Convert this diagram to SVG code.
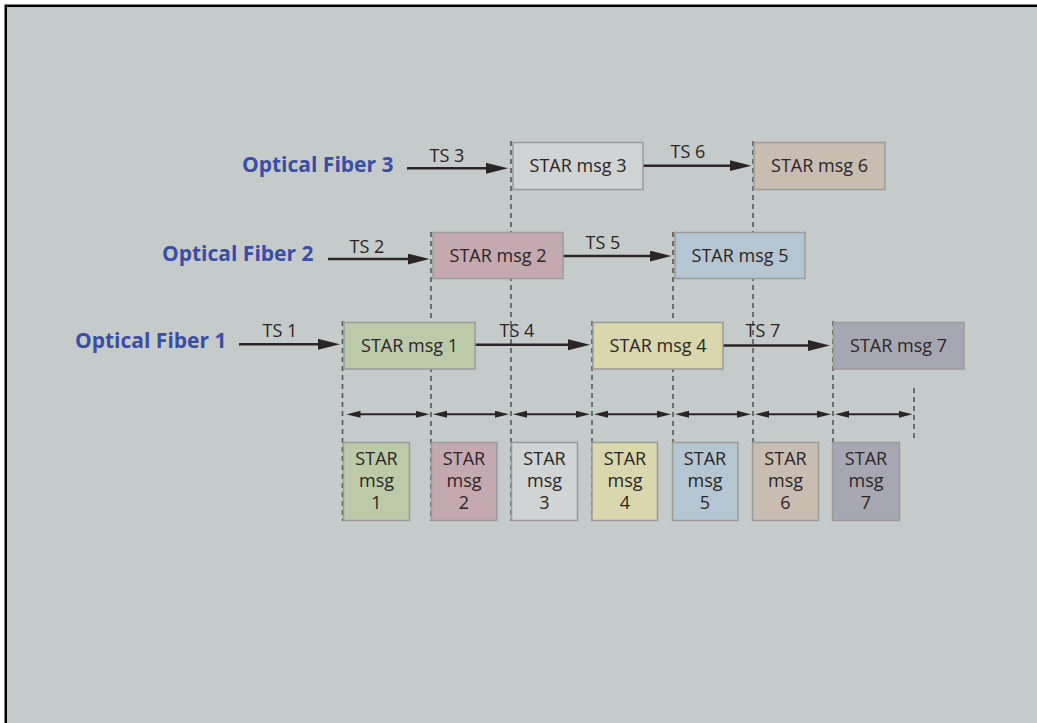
<svg xmlns="http://www.w3.org/2000/svg" width="1037" height="723" viewBox="0 0 1037 723">
<style>
.fiber{font-family:"Open Sans","Liberation Sans",sans-serif;font-weight:bold;font-size:21px;fill:#3b4ea6}
.t{font-family:"Open Sans","Liberation Sans",sans-serif;font-size:18px;fill:#2b2526;text-anchor:middle}
.box{stroke:#9a9a9a;stroke-width:1.5}
.arr{stroke:#2b2526;stroke-width:2.6;fill:none;marker-end:url(#ah)}
.dbl{stroke:#2b2526;stroke-width:2;fill:none;marker-end:url(#dh);marker-start:url(#dh)}
.dash{stroke:#555;stroke-width:1.6;stroke-dasharray:5 4;fill:none}
</style>
<defs>
<marker id="ah" markerUnits="userSpaceOnUse" markerWidth="22" markerHeight="12" refX="12" refY="5.5" orient="auto"><path d="M0,0 L22,5.5 L0,11 z" fill="#2b2526"/></marker>
<marker id="dh" markerUnits="userSpaceOnUse" markerWidth="14" markerHeight="8" refX="8" refY="3.5" orient="auto-start-reverse"><path d="M0,0 L14,3.5 L0,7 z" fill="#2b2526"/></marker>
</defs>
<rect x="0" y="0" width="1037" height="723" fill="#fff"/>
<rect x="5.75" y="5.75" width="1040" height="730" fill="#c5cbca" stroke="#000" stroke-width="2.5"/>

<g id="connectors">
<path class="dash" d="M342.5,321 V521"/>
<path class="dash" d="M431,232 V521"/>
<path class="dash" d="M511,141 V521"/>
<path class="dash" d="M592,321 V521"/>
<path class="dash" d="M673,232 V521"/>
<path class="dash" d="M753,141 V521"/>
<path class="dash" d="M833,321 V521"/>
<path class="dash" d="M914,388 V441"/>

<path class="arr" d="M407,168.3 H498"/>
<path class="arr" d="M643,165.7 H741.5"/>
<path class="arr" d="M328,259 H419.5"/>
<path class="arr" d="M563,256 H661.5"/>
<path class="arr" d="M239,344.3 H330"/>
<path class="arr" d="M475,344.8 H580"/>
<path class="arr" d="M723,345.5 H820"/>

<path class="dbl" d="M352.5,414.3 H423.5"/>
<path class="dbl" d="M439,414.3 H503"/>
<path class="dbl" d="M519,414.3 H584"/>
<path class="dbl" d="M600,414.3 H665"/>
<path class="dbl" d="M681,414.3 H745"/>
<path class="dbl" d="M761,414.3 H825"/>
<path class="dbl" d="M841,414.3 H906.5"/>

<text class="t" x="447" y="162">TS 3</text>
<text class="t" x="688" y="158">TS 6</text>
<text class="t" x="367" y="253">TS 2</text>
<text class="t" x="603" y="249">TS 5</text>
<text class="t" x="280" y="337">TS 1</text>
<text class="t" x="517" y="337">TS 4</text>
<text class="t" x="763" y="337">TS 7</text>
</g>

<g id="fiber3"><text class="fiber" x="242" y="172">Optical Fiber 3</text></g>
<g id="fiber2"><text class="fiber" x="162" y="261">Optical Fiber 2</text></g>
<g id="fiber1"><text class="fiber" x="75" y="348">Optical Fiber 1</text></g>

<g id="msg3"><rect class="box" x="513" y="142.5" width="130" height="47" fill="#d0d4d4"/><text class="t" x="578" y="172">STAR msg 3</text></g>
<g id="msg6"><rect class="box" x="754" y="142.5" width="131" height="47" fill="#c9bdb1"/><text class="t" x="819.5" y="172">STAR msg 6</text></g>
<g id="msg2"><rect class="box" x="433" y="232.5" width="130" height="46" fill="#c4a9b0"/><text class="t" x="498" y="262">STAR msg 2</text></g>
<g id="msg5"><rect class="box" x="675" y="232.5" width="130" height="46" fill="#b4c6d1"/><text class="t" x="740" y="262">STAR msg 5</text></g>
<g id="msg1"><rect class="box" x="344" y="322.5" width="131" height="46.5" fill="#bccaa9"/><text class="t" x="409.5" y="352">STAR msg 1</text></g>
<g id="msg4"><rect class="box" x="593" y="322.5" width="130" height="46.5" fill="#dad6ae"/><text class="t" x="658" y="352">STAR msg 4</text></g>
<g id="msg7"><rect class="box" x="833.5" y="322.5" width="130.5" height="46.5" fill="#a7a7b3"/><text class="t" x="898.5" y="352">STAR msg 7</text></g>

<g id="slot1"><rect class="box" x="343.5" y="442.5" width="66" height="78" fill="#bccaa9"/><text class="t" x="376.5" y="465">STAR</text><text class="t" x="376.5" y="487">msg</text><text class="t" x="376.5" y="509">1</text></g>
<g id="slot2"><rect class="box" x="431.5" y="442.5" width="65.5" height="78" fill="#c4a9b0"/><text class="t" x="464" y="465">STAR</text><text class="t" x="464" y="487">msg</text><text class="t" x="464" y="509">2</text></g>
<g id="slot3"><rect class="box" x="511.5" y="442.5" width="66" height="78" fill="#d0d4d4"/><text class="t" x="544.5" y="465">STAR</text><text class="t" x="544.5" y="487">msg</text><text class="t" x="544.5" y="509">3</text></g>
<g id="slot4"><rect class="box" x="592" y="442.5" width="65.5" height="78" fill="#dad6ae"/><text class="t" x="625" y="465">STAR</text><text class="t" x="625" y="487">msg</text><text class="t" x="625" y="509">4</text></g>
<g id="slot5"><rect class="box" x="672.5" y="442.5" width="65.5" height="78" fill="#b4c6d1"/><text class="t" x="705" y="465">STAR</text><text class="t" x="705" y="487">msg</text><text class="t" x="705" y="509">5</text></g>
<g id="slot6"><rect class="box" x="752.5" y="442.5" width="66" height="78" fill="#c9bdb1"/><text class="t" x="785.5" y="465">STAR</text><text class="t" x="785.5" y="487">msg</text><text class="t" x="785.5" y="509">6</text></g>
<g id="slot7"><rect class="box" x="832.5" y="442.5" width="67" height="78" fill="#a7a7b3"/><text class="t" x="866" y="465">STAR</text><text class="t" x="866" y="487">msg</text><text class="t" x="866" y="509">7</text></g>
</svg>
